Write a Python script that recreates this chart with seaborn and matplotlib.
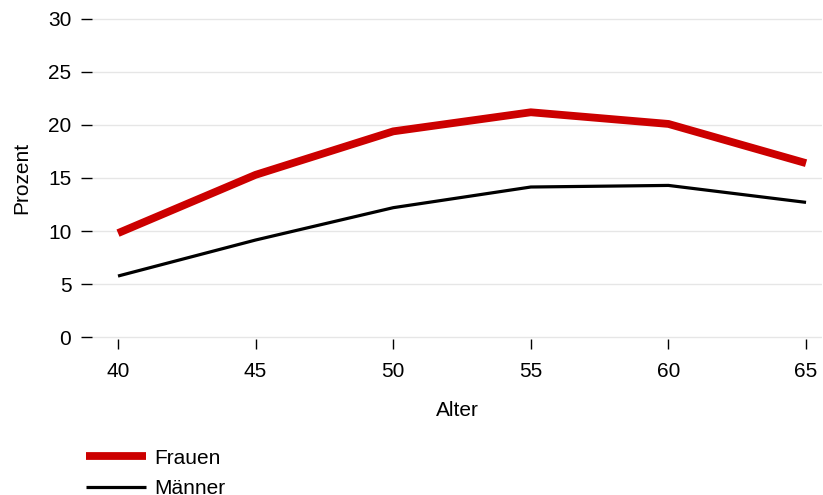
import matplotlib
matplotlib.use("Agg")
import matplotlib.pyplot as plt
import seaborn as sns
import pandas as pd

# %%
alter = [40, 45, 50, 55, 60, 65]
frauen = [9.8, 15.3, 19.4, 21.2, 20.1, 16.4]
maenner = [5.75, 9.15, 12.2, 14.15, 14.3, 12.7]
serien = ["Frauen", "Männer"]
y_ticks = [0, 5, 10, 15, 20, 25, 30]

df = pd.DataFrame({
  "Alter": alter * 2,
  "Prozent": frauen + maenner,
  "Geschlecht": [serien[0]] * len(alter) + [serien[1]] * len(alter),
})

# %%
sns.set_style("ticks")
plt.rcParams["font.family"] = ["Liberation Sans", "DejaVu Sans"]
plt.rcParams["font.size"] = 15
plt.rcParams["text.color"] = "black"
plt.rcParams["axes.labelcolor"] = "black"
plt.rcParams["xtick.color"] = "black"
plt.rcParams["ytick.color"] = "black"

fig = plt.figure(figsize=(8.23, 4.95), dpi=100)
ax = fig.add_axes([92 / 823, 156.4 / 495, 730 / 823, 321.2 / 495])
sns.lineplot(
  data=df,
  x="Alter",
  y="Prozent",
  hue="Geschlecht",
  size="Geschlecht",
  palette={"Frauen": "#cc0000", "Männer": "black"},
  sizes={"Frauen": 5.6, "Männer": 2.3},
  ax=ax,
)
for line in ax.get_lines():
  line.set_solid_capstyle("butt")
  line.set_solid_joinstyle("miter")

ax.set_xlim(39.055, 65.58)
ax.set_ylim(-0.15, 30.15)
ax.set_xticks(alter)
ax.set_yticks(y_ticks)
ax.grid(axis="y", color="#e6e6e6", linewidth=1)
ax.set_axisbelow(True)
sns.despine(ax=ax, left=True, bottom=True)
ax.tick_params(axis="y", left=True, length=7.9, width=1, pad=7, labelsize=15)
ax.tick_params(axis="x", bottom=True, length=7.2, width=1, pad=10, labelsize=15)
ax.set_xlabel("Alter", fontsize=15, labelpad=14)
ax.set_ylabel("Prozent", fontsize=15, labelpad=12)

sns.move_legend(
  ax,
  "upper left",
  bbox_to_anchor=(67 / 823, 1 - 430 / 495),
  bbox_transform=fig.transFigure,
  title=None,
  frameon=False,
  fontsize=15,
  handlelength=2.9,
  handletextpad=0.4,
  labelspacing=0.55,
)
for handle in ax.get_legend().get_lines():
  handle.set_solid_capstyle("butt")

plt.savefig("out.png", dpi=100)
